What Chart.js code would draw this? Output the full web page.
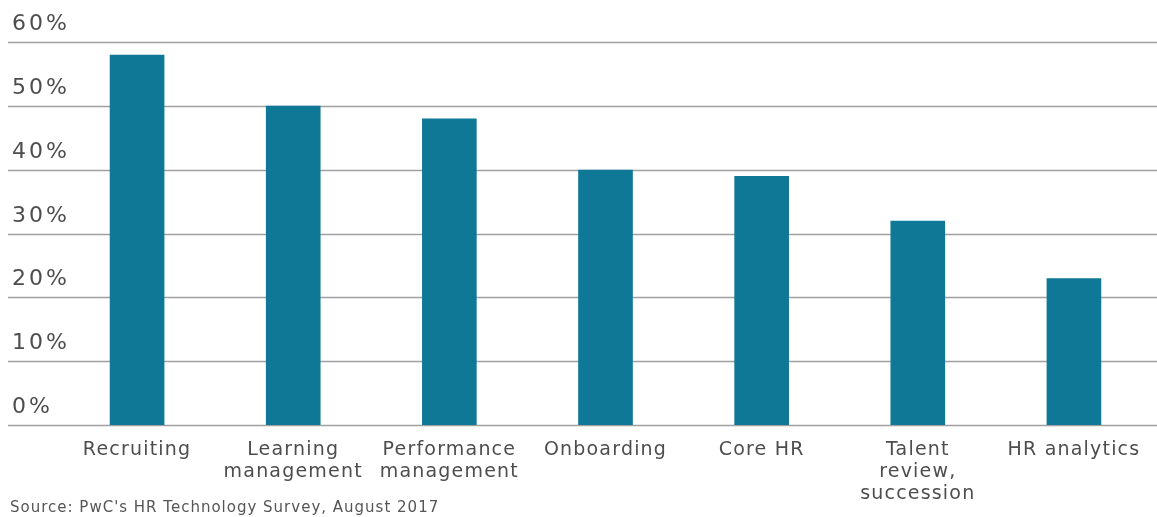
<!DOCTYPE html>
<html>
<head>
<meta charset="utf-8">
<script src="https://cdn.jsdelivr.net/npm/chart.js@4/dist/chart.umd.min.js"></script>
<style>
  html, body { margin: 0; padding: 0; background: #fff; }
  #wrap { position: relative; width: 1157px; height: 517px; }
</style>
</head>
<body>
<div id="wrap"><canvas id="hrChart"></canvas></div>
<script>
// Chart data
const categories = [
  'Recruiting',
  ['Learning', 'management'],
  ['Performance', 'management'],
  'Onboarding',
  'Core HR',
  ['Talent', 'review,', 'succession'],
  'HR analytics'
];
const shareValues = [58, 50, 48, 40, 39, 32, 23];
const yTicks = [0, 10, 20, 30, 40, 50, 60];
const sourceNote = "Source: PwC's HR Technology Survey, August 2017";

const barColor = '#0f7896';
const gridColor = '#a0a0a0';
const textColor = '#4d4d4d';

// the original font is wide, so spread the letters a bit
const spacingPlugin = {
  id: 'spacing',
  beforeUpdate(chart) { chart.ctx.letterSpacing = '1.2px'; },
  beforeDraw(chart) { chart.ctx.letterSpacing = '1.2px'; }
};

// Draws the full-width gridlines with the % labels sitting above each line
const gridPlugin = {
  id: 'wideGrid',
  beforeDatasetsDraw(chart) {
    const ctx = chart.ctx;
    const y = chart.scales.y;
    ctx.save();
    ctx.strokeStyle = gridColor;
    ctx.lineWidth = 1.5;
    ctx.fillStyle = textColor;
    ctx.font = '22px "DejaVu Sans"';
    ctx.letterSpacing = '3px';
    ctx.textBaseline = 'middle';
    ctx.textAlign = 'left';
    yTicks.forEach(v => {
      const py = Math.round(y.getPixelForValue(v)) + 0.5;
      ctx.beginPath();
      ctx.moveTo(8, py);
      ctx.lineTo(chart.width, py);
      ctx.stroke();
      ctx.fillText(v + '%', 12, py - 18);
    });
    ctx.restore();
  },
  afterDraw(chart) {
    const ctx = chart.ctx;
    ctx.save();
    ctx.fillStyle = '#555';
    ctx.font = '15px "DejaVu Sans"';
    ctx.letterSpacing = '1px';
    ctx.textBaseline = 'middle';
    ctx.textAlign = 'left';
    ctx.fillText(sourceNote, 10, 508);
    ctx.restore();
  }
};

new Chart(document.getElementById('hrChart'), {
  type: 'bar',
  data: {
    labels: categories,
    datasets: [{
      data: shareValues,
      backgroundColor: barColor,
      borderWidth: 0,
      categoryPercentage: 1,
      barPercentage: 0.35
    }]
  },
  options: {
    responsive: true,
    maintainAspectRatio: false,
    animation: false,
    layout: { padding: { left: 59, right: 5, top: 42, bottom: 0 } },
    plugins: {
      legend: { display: false },
      tooltip: { enabled: false }
    },
    scales: {
      x: {
        grid: { display: false, drawTicks: false },
        border: { display: false },
        ticks: {
          color: textColor,
          font: { family: 'DejaVu Sans', size: 19, lineHeight: 1.15 },
          padding: 14,
          maxRotation: 0,
          autoSkip: false
        },
        afterFit(scale) { scale.height = 92; }
      },
      y: {
        display: false,
        min: 0,
        max: 60
      }
    }
  },
  plugins: [spacingPlugin, gridPlugin]
});
</script>
</body>
</html>
